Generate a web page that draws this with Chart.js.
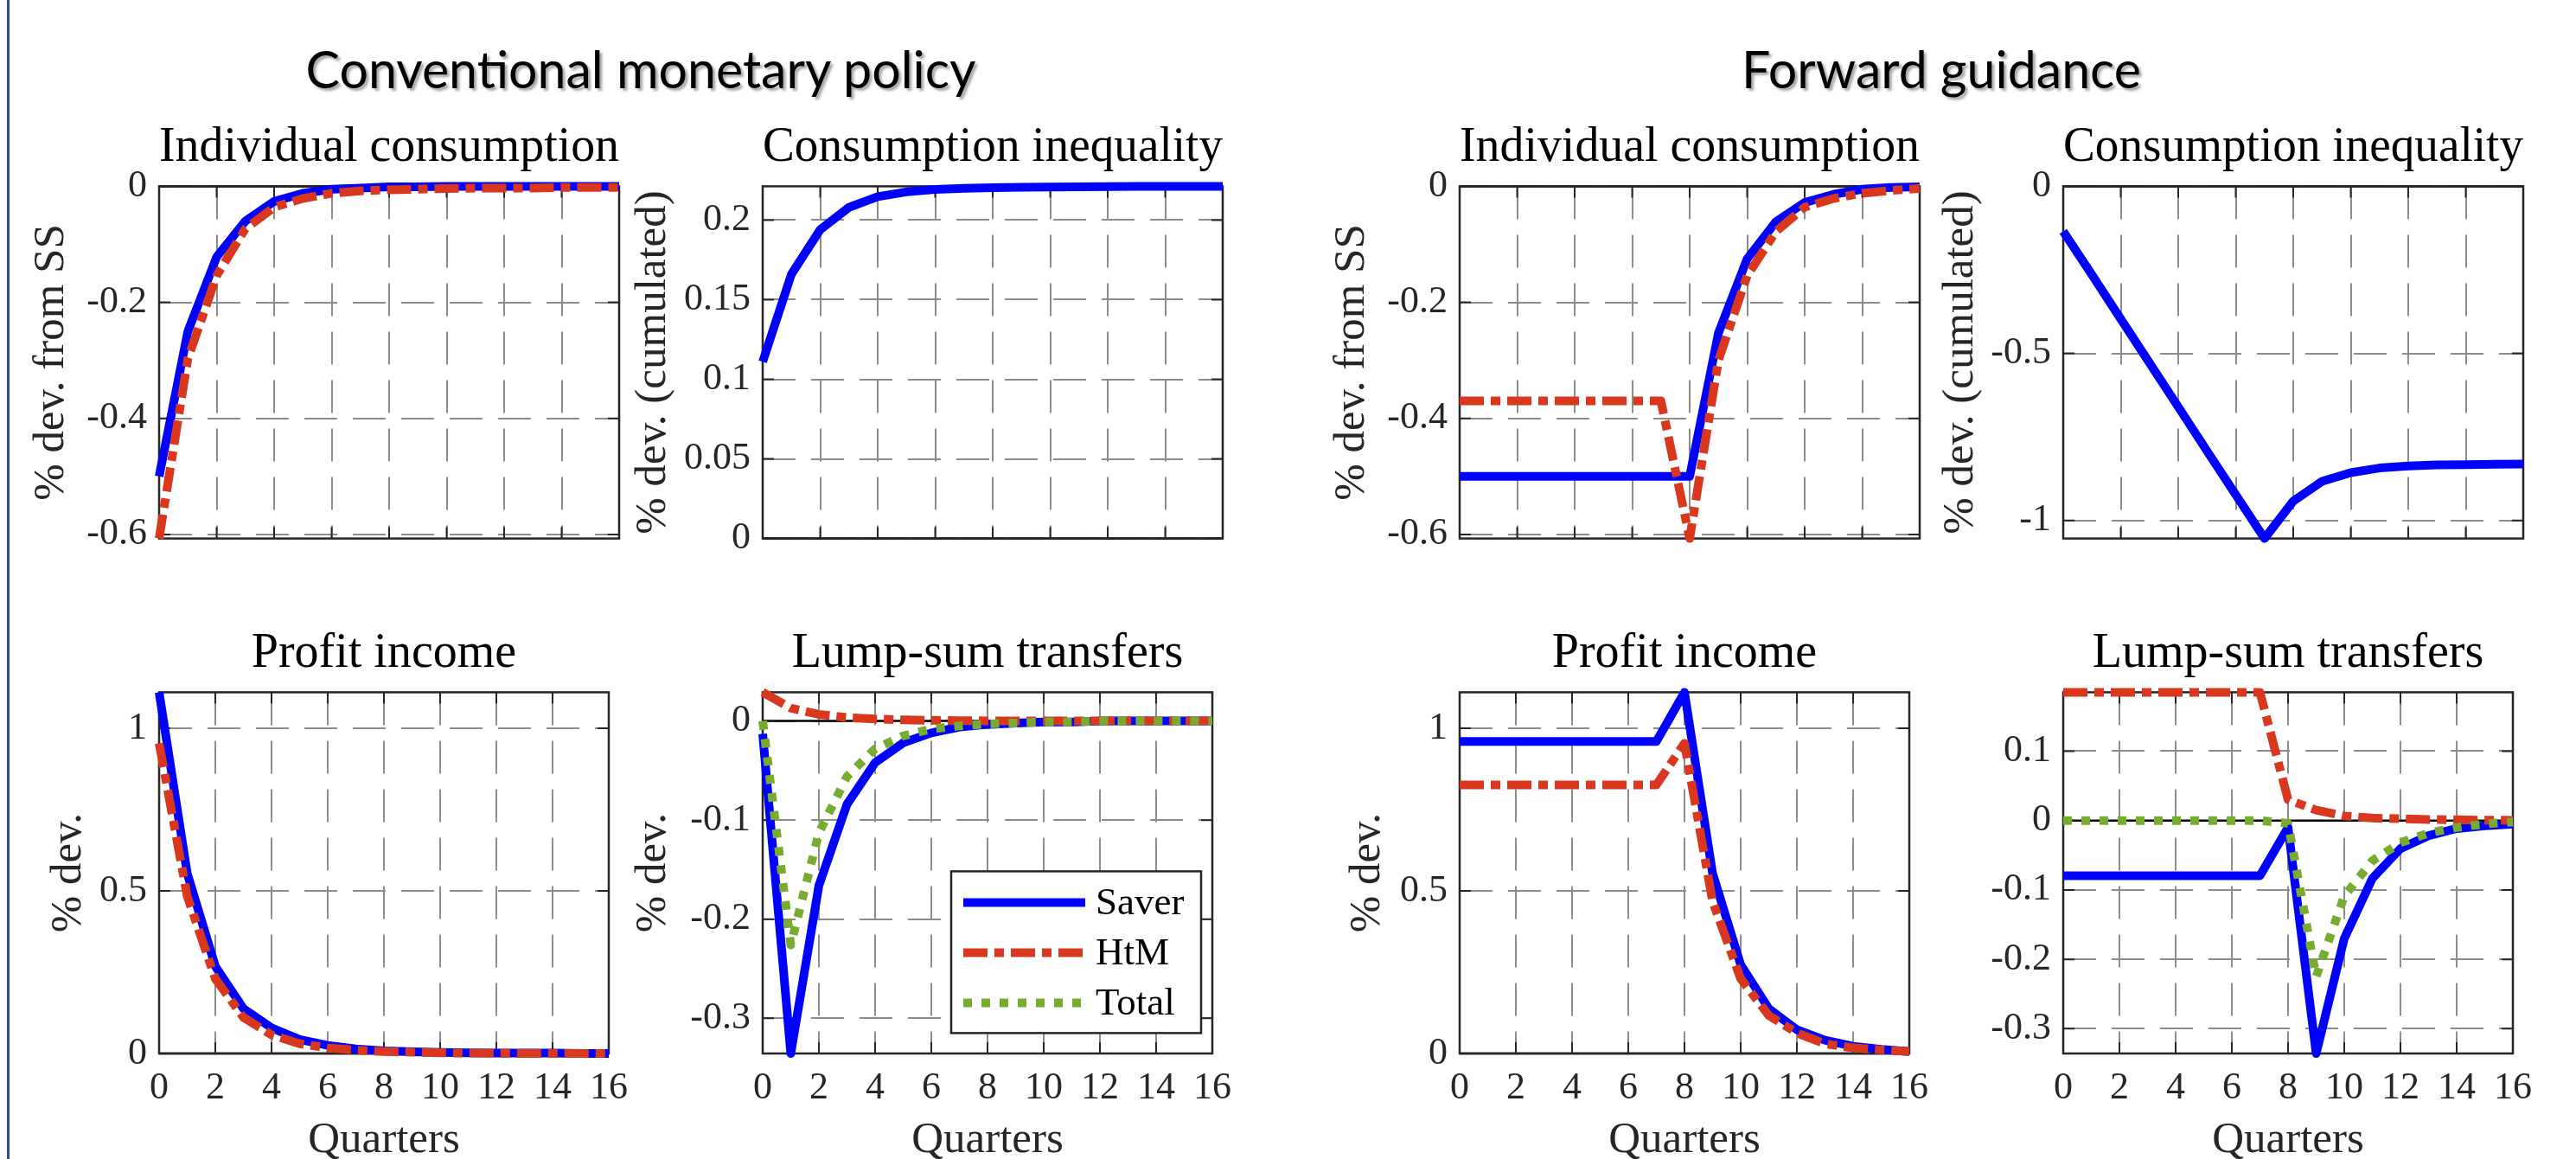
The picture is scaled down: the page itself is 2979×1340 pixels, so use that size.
<!DOCTYPE html>
<html lang="en">
<head>
<meta charset="UTF-8">
<title>Conventional monetary policy vs forward guidance</title>
<script src="https://cdn.jsdelivr.net/npm/chart.js"></script>
<style>
  body { margin: 0; background: #fff; }
  #page { position: relative; width: 2979px; height: 1340px; overflow: hidden; background: #fff; }
  #page canvas { position: absolute; }
  .sup {
    position: absolute;
    font-family: Lato, 'Open Sans', sans-serif;
    color: #000;
    white-space: nowrap;
    line-height: 1;
    text-shadow: 3px 3px 3px rgba(0,0,0,0.35);
    transform: translate(-50%, -50%);
  }
  #edge { position: absolute; left: 8px; top: 0; width: 3px; height: 1340px; background: #2f4b8c; }
</style>
</head>
<body>
<div id="page">
  <div id="edge"></div>
  <div class="sup" id="supConv" style="left:741px; top:80px;">Conventional monetary policy</div>
  <div class="sup" id="supFG" style="left:2245px; top:80px;">Forward guidance</div>
  <canvas id="c1"></canvas>
  <canvas id="c2"></canvas>
  <canvas id="c3"></canvas>
  <canvas id="c4"></canvas>
  <canvas id="c5"></canvas>
  <canvas id="c6"></canvas>
  <canvas id="c7"></canvas>
  <canvas id="c8"></canvas>
</div>

<script>
// ---- data ----
const quarters = [0, 1, 2, 3, 4, 5, 6, 7, 8, 9, 10, 11, 12, 13, 14, 15, 16];
const xTicks = [0, 2, 4, 6, 8, 10, 12, 14, 16];
const seriesNames = ['Saver', 'HtM', 'Total'];

// conventional monetary policy
const convConsSaver = [-0.5, -0.25, -0.122, -0.06, -0.026, -0.012, -0.005, -0.003, -0.001, -0.001, 0, 0, 0, 0, 0, 0, 0];
const convConsHtM = [-0.607, -0.297, -0.154, -0.073, -0.036, -0.021, -0.012, -0.008, -0.006, -0.005, -0.004, -0.003, -0.003, -0.003, -0.002, -0.002, -0.002];
const convIneq = [0.111, 0.166, 0.194, 0.208, 0.2147, 0.2177, 0.2192, 0.2199, 0.2203, 0.2206, 0.2208, 0.2209, 0.221, 0.2211, 0.2211, 0.2212, 0.2212];
const convProfSaver = [1.111, 0.554, 0.268, 0.138, 0.079, 0.043, 0.025, 0.014, 0.008, 0.005, 0.003, 0.002, 0.001, 0.001, 0.001, 0, 0];
const convProfHtM = [0.954, 0.484, 0.23, 0.111, 0.057, 0.03, 0.017, 0.01, 0.006, 0.004, 0.002, 0.001, 0.001, 0, 0, 0, 0];
const convTrSaver = [-0.013, -0.3355, -0.166, -0.084, -0.042, -0.022, -0.012, -0.006, -0.0035, -0.002, -0.001, -0.001, 0, 0, 0, 0, 0];
const convTrHtM = [0.029, 0.013, 0.0067, 0.0035, 0.002, 0.0012, 0.0007, 0.0004, 0.0002, 0.0001, 0, 0, 0, 0, 0, 0, 0];
const convTrTotal = [0, -0.226, -0.113, -0.056, -0.028, -0.015, -0.008, -0.005, -0.003, -0.002, -0.001, -0.001, 0, 0, 0, 0, 0];

// forward guidance
const fgConsSaver = [-0.5, -0.5, -0.5, -0.5, -0.5, -0.5, -0.5, -0.5, -0.5, -0.253, -0.125, -0.061, -0.028, -0.014, -0.005, -0.002, -0.001];
const fgConsHtM = [-0.37, -0.37, -0.37, -0.37, -0.37, -0.37, -0.37, -0.37, -0.607, -0.3, -0.154, -0.078, -0.036, -0.021, -0.012, -0.007, -0.004];
const fgIneq = [-0.135, -0.265, -0.397, -0.528, -0.66, -0.792, -0.923, -1.054, -0.942, -0.883, -0.857, -0.843, -0.837, -0.834, -0.833, -0.832, -0.831];
const fgProfSaver = [0.96, 0.96, 0.96, 0.96, 0.96, 0.96, 0.96, 0.96, 1.111, 0.554, 0.273, 0.138, 0.073, 0.041, 0.022, 0.013, 0.006];
const fgProfHtM = [0.826, 0.826, 0.826, 0.826, 0.826, 0.826, 0.826, 0.826, 0.954, 0.468, 0.23, 0.117, 0.063, 0.03, 0.017, 0.011, 0.006];
const fgTrSaver = [-0.0795, -0.0795, -0.0795, -0.0795, -0.0795, -0.0795, -0.0795, -0.0795, -0.01, -0.3357, -0.17, -0.0835, -0.0405, -0.0218, -0.0116, -0.0076, -0.005];
const fgTrHtM = [0.1848, 0.1848, 0.1848, 0.1848, 0.1848, 0.1848, 0.1848, 0.1848, 0.03, 0.015, 0.0066, 0.0035, 0.0025, 0.0015, 0.001, 0.0005, 0.0003];
const fgTrTotal = [0, 0, 0, 0, 0, 0, 0, 0, -0.004, -0.225, -0.109, -0.058, -0.032, -0.018, -0.01, -0.005, -0.002];

// y tick labels
const yTicksCons = [-0.6, -0.4, -0.2, 0];
const yTicksConvIneq = [0, 0.05, 0.1, 0.15, 0.2];
const yTicksFgIneq = [-1, -0.5, 0];
const yTicksProf = [0, 0.5, 1];
const yTicksConvTr = [-0.3, -0.2, -0.1, 0];
const yTicksFgTr = [-0.3, -0.2, -0.1, 0, 0.1];

// ---- layout / style ----
const SERIF = "'Liberation Serif', 'Times New Roman', serif";
const TEXT = '#262626';
const GRID = '#8c8c8c';
const colLeft = [184, 882, 1688, 2386];
const rowTop = [213, 798];
const BOX_W = 532, BOX_H = 420;
const AXIS_W = 180, TITLE_H = 110, RIGHT_PAD = 24;

const seriesStyles = [
  { color: '#0000ff', dash: [], order: 3 },
  { color: '#d9381e', dash: [28, 8, 11, 8], order: 2 },
  { color: '#77ac30', dash: [10, 11], order: 1 }
];

const panels = [
  { id: 'c1', col: 0, row: 0, title: 'Individual consumption', yLabel: '% dev. from SS', yPad: 25,
    yTicks: yTicksCons, yMin: -0.607, yMax: 0, series: [convConsSaver, convConsHtM] },
  { id: 'c2', col: 1, row: 0, title: 'Consumption inequality', yLabel: '% dev. (cumulated)', yPad: 23,
    yTicks: yTicksConvIneq, yMin: 0, yMax: 0.2212, series: [convIneq] },
  { id: 'c3', col: 2, row: 0, title: 'Individual consumption', yLabel: '% dev. from SS', yPad: 25,
    yTicks: yTicksCons, yMin: -0.607, yMax: 0, series: [fgConsSaver, fgConsHtM] },
  { id: 'c4', col: 3, row: 0, title: 'Consumption inequality', yLabel: '% dev. (cumulated)', yPad: 31,
    yTicks: yTicksFgIneq, yMin: -1.054, yMax: 0, series: [fgIneq] },
  { id: 'c5', col: 0, row: 1, title: 'Profit income', yLabel: '% dev.', yPad: 45,
    yTicks: yTicksProf, yMin: 0, yMax: 1.111, series: [convProfSaver, convProfHtM] },
  { id: 'c6', col: 1, row: 1, title: 'Lump-sum transfers', yLabel: '% dev.', yPad: 23,
    yTicks: yTicksConvTr, yMin: -0.3355, yMax: 0.029, series: [convTrSaver, convTrHtM, convTrTotal], legend: true },
  { id: 'c7', col: 2, row: 1, title: 'Profit income', yLabel: '% dev.', yPad: 43,
    yTicks: yTicksProf, yMin: 0, yMax: 1.111, series: [fgProfSaver, fgProfHtM] },
  { id: 'c8', col: 3, row: 1, title: 'Lump-sum transfers', yLabel: '', yPad: 0,
    yTicks: yTicksFgTr, yMin: -0.3357, yMax: 0.1848, series: [fgTrSaver, fgTrHtM, fgTrTotal] }
];

// axes box, zero line and inward tick marks (MATLAB style)
const framePlugin = {
  id: 'frame',
  beforeDatasetsDraw(chart) {
    const { ctx, chartArea: a, scales: { x, y } } = chart;
    const TL = 13;
    ctx.save();
    ctx.setLineDash([]);
    ctx.strokeStyle = '#000';
    ctx.lineWidth = 2.5;
    const y0 = y.getPixelForValue(0);
    ctx.beginPath();
    ctx.moveTo(a.left, y0);
    ctx.lineTo(a.right, y0);
    ctx.stroke();

    ctx.strokeStyle = TEXT;
    ctx.lineWidth = 2;
    ctx.beginPath();
    x.ticks.forEach(t => {
      const px = x.getPixelForValue(t.value);
      ctx.moveTo(px, a.bottom); ctx.lineTo(px, a.bottom - TL);
      ctx.moveTo(px, a.top); ctx.lineTo(px, a.top + TL);
    });
    y.ticks.forEach(t => {
      const py = y.getPixelForValue(t.value);
      ctx.moveTo(a.left, py); ctx.lineTo(a.left + TL, py);
      ctx.moveTo(a.right, py); ctx.lineTo(a.right - TL, py);
    });
    ctx.stroke();

    ctx.lineWidth = 2.5;
    ctx.strokeRect(a.left, a.top, a.right - a.left, a.bottom - a.top);
    ctx.restore();
  }
};

// legend box drawn inside the chart area
const legendPlugin = {
  id: 'boxLegend',
  afterDatasetsDraw(chart) {
    const { ctx, chartArea: a } = chart;
    const bx = a.left + 218, by = a.top + 207, bw = 289, bh = 187;
    ctx.save();
    ctx.fillStyle = '#fff';
    ctx.fillRect(bx, by, bw, bh);
    ctx.strokeStyle = TEXT;
    ctx.lineWidth = 2.5;
    ctx.strokeRect(bx, by, bw, bh);
    chart.data.datasets.forEach((ds, i) => {
      const ly = by + 36 + i * 58;
      ctx.strokeStyle = ds.borderColor;
      ctx.lineWidth = ds.borderWidth;
      ctx.lineCap = 'butt';
      ctx.setLineDash(ds.borderDash);
      ctx.beginPath();
      ctx.moveTo(bx + 14, ly);
      ctx.lineTo(bx + 155, ly);
      ctx.stroke();
      ctx.setLineDash([]);
      ctx.fillStyle = '#000';
      ctx.font = '45px ' + SERIF;
      ctx.textBaseline = 'middle';
      ctx.fillText(ds.label, bx + 167, ly + 2);
    });
    ctx.restore();
  }
};

function fmt(v) {
  return String(+v.toFixed(2));
}

panels.forEach(p => {
  const bottomRow = p.row === 1;
  const xAxisH = bottomRow ? 122 : 30;
  const canvas = document.getElementById(p.id);
  canvas.width = AXIS_W + BOX_W + RIGHT_PAD;
  canvas.height = TITLE_H + BOX_H + xAxisH;
  canvas.style.left = (colLeft[p.col] - AXIS_W) + 'px';
  canvas.style.top = (rowTop[p.row] - TITLE_H) + 'px';

  const datasets = p.series.map((vals, i) => ({
    label: seriesNames[i],
    data: quarters.map((q, k) => ({ x: q, y: vals[k] })),
    borderColor: seriesStyles[i].color,
    borderDash: seriesStyles[i].dash,
    order: seriesStyles[i].order,
    borderWidth: 10,
    borderCapStyle: 'butt',
    borderJoinStyle: 'round',
    pointRadius: 0,
    tension: 0,
    fill: false,
    clip: false
  }));

  new Chart(canvas, {
    type: 'line',
    data: { datasets },
    options: {
      responsive: false,
      animation: false,
      devicePixelRatio: 1,
      layout: { padding: { left: 0, right: RIGHT_PAD, top: 0, bottom: 0 } },
      plugins: {
        legend: { display: false },
        tooltip: { enabled: false },
        title: {
          display: true,
          text: p.title,
          fullSize: false,
          color: '#000',
          font: { family: SERIF, size: 56, weight: 'normal', lineHeight: 1.2 },
          padding: { top: 34.6, bottom: 10.6 }
        }
      },
      scales: {
        x: {
          type: 'linear',
          min: 0,
          max: 16,
          afterBuildTicks: s => { s.ticks = xTicks.map(v => ({ value: v })); },
          afterFit: s => { s.height = xAxisH; },
          grid: { color: GRID, lineWidth: 2, drawTicks: false },
          border: { display: false, dash: [38, 18] },
          ticks: { display: bottomRow, color: TEXT, padding: 14, maxRotation: 0, autoSkip: false,
                   font: { family: SERIF, size: 44 } },
          title: { display: bottomRow, text: 'Quarters', color: TEXT,
                   font: { family: SERIF, size: 51, lineHeight: 0.85 }, padding: { top: 0, bottom: 0 } }
        },
        y: {
          type: 'linear',
          min: p.yMin,
          max: p.yMax,
          afterBuildTicks: s => { s.ticks = p.yTicks.map(v => ({ value: v })); },
          afterFit: s => { s.width = AXIS_W; },
          grid: { color: GRID, lineWidth: 2, drawTicks: false },
          border: { display: false, dash: [38, 18] },
          ticks: { color: TEXT, padding: 14, autoSkip: false, font: { family: SERIF, size: 44 },
                   callback: v => fmt(v) },
          title: { display: p.yLabel !== '', text: p.yLabel, color: TEXT,
                   font: { family: SERIF, size: 51, lineHeight: 1.2 }, padding: { top: p.yPad, bottom: 0 } }
        }
      }
    },
    plugins: p.legend ? [framePlugin, legendPlugin] : [framePlugin]
  });
});

// fit the two headline titles to their measured widths
function fitWidth(el, target) {
  el.style.fontSize = '60px';
  const w = el.getBoundingClientRect().width;
  el.style.fontSize = (60 * target / w) + 'px';
}
fitWidth(document.getElementById('supConv'), 775);
fitWidth(document.getElementById('supFG'), 462);
</script>
</body>
</html>
